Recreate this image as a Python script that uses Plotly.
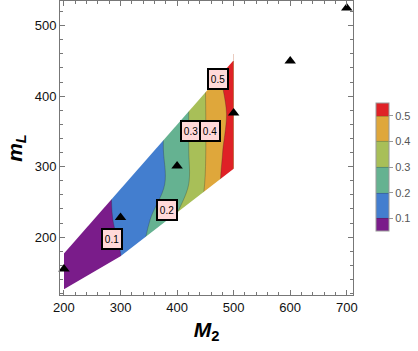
import plotly.graph_objects as go

# grid of the contoured quantity
m2_grid = [200, 250, 300, 340, 380, 400, 420, 440, 460, 480, 500]
ml_grid = [126, 175, 225, 275, 325, 375, 425, 460]
z_grid = [
    [0.03, 0.065, 0.099, 0.20, 0.30, 0.35, 0.40, 0.45, 0.50, 0.53, 0.56],
    [0.03, 0.065, 0.099, 0.20, 0.30, 0.35, 0.40, 0.45, 0.50, 0.53, 0.56],
    [0.03, 0.068, 0.112, 0.173, 0.26, 0.31, 0.35, 0.40, 0.45, 0.50, 0.56],
    [0.02, 0.06, 0.119, 0.16, 0.202, 0.25, 0.298, 0.368, 0.442, 0.512, 0.56],
    [0.02, 0.06, 0.115, 0.158, 0.205, 0.251, 0.298, 0.366, 0.429, 0.497, 0.56],
    [0.02, 0.06, 0.115, 0.158, 0.205, 0.25, 0.298, 0.368, 0.428, 0.477, 0.54],
    [0.02, 0.06, 0.115, 0.158, 0.205, 0.25, 0.298, 0.37, 0.43, 0.505, 0.56],
    [0.02, 0.06, 0.115, 0.158, 0.205, 0.25, 0.298, 0.37, 0.43, 0.505, 0.56],
]

# edges of the region where the data exists
upper_edge_m2 = [200, 500]
upper_edge_ml = [177, 451]
lower_edge_m2 = [200, 300, 500]
lower_edge_ml = [126, 173, 297]

# benchmark points
pts_m2 = [200, 300, 400, 500, 600, 700]
pts_ml = [155, 228, 301, 376, 450, 525]

# contour labels
label_text = ["0.1", "0.2", "0.3", "0.4", "0.5"]
label_m2 = [285, 383, 424, 459, 472]
label_ml = [197, 238, 351, 351, 424]

band_colors = ["#7A1C8A", "#437ECF", "#65B291", "#A8BF58", "#DFA73B", "#DF2126"]

fig = go.Figure()
fig.add_trace(
    go.Contour(
        x=m2_grid,
        y=ml_grid,
        z=z_grid,
        contours={"start": 0.1, "end": 0.5, "size": 0.1, "coloring": "fill"},
        colorscale=[[i / 5, c] for i, c in enumerate(band_colors)],
        line={"color": "rgba(40,40,40,0.35)", "width": 0.8},
        colorbar={
            "x": 1.078,
            "xanchor": "left",
            "xpad": 0,
            "y": 0.435,
            "yanchor": "middle",
            "len": 0.435,
            "ypad": 0,
            "thickness": 13,
            "outlinecolor": "#999",
            "outlinewidth": 1,
            "tickvals": [0.1, 0.2, 0.3, 0.4, 0.5],
            "ticks": "outside",
            "ticklen": 4,
            "tickcolor": "#999",
            "tickfont": {"size": 11, "color": "#555"},
        },
        hoverinfo="skip",
    )
)

# white masks outside the data hull
fig.add_trace(
    go.Scatter(
        x=upper_edge_m2 + [upper_edge_m2[-1], upper_edge_m2[0] - 5, upper_edge_m2[0] - 5],
        y=upper_edge_ml + [470, 470, upper_edge_ml[0]],
        fill="toself",
        fillcolor="white",
        line={"width": 0, "color": "white"},
        mode="lines",
        hoverinfo="skip",
        showlegend=False,
    )
)
fig.add_trace(
    go.Scatter(
        x=lower_edge_m2 + [lower_edge_m2[-1] + 5, lower_edge_m2[-1] + 5, lower_edge_m2[0] - 5, lower_edge_m2[0] - 5],
        y=lower_edge_ml + [lower_edge_ml[-1], 118, 118, lower_edge_ml[0]],
        fill="toself",
        fillcolor="white",
        line={"width": 0, "color": "white"},
        mode="lines",
        hoverinfo="skip",
        showlegend=False,
    )
)

fig.add_trace(
    go.Scatter(
        x=pts_m2,
        y=pts_ml,
        mode="markers",
        marker={"symbol": "triangle-up", "size": 10, "color": "black"},
        cliponaxis=False,
        showlegend=False,
    )
)

for t, xm, ym in zip(label_text, label_m2, label_ml):
    fig.add_annotation(
        x=xm,
        y=ym,
        text=t,
        showarrow=False,
        font={"size": 10, "color": "black"},
        bgcolor="#FFD9D9",
        bordercolor="black",
        borderwidth=2,
        borderpad=1,
        width=16,
        height=16,
    )

axis_common = dict(
    showline=True,
    linecolor="#777",
    linewidth=1,
    mirror="ticks",
    ticks="inside",
    ticklen=5,
    tickcolor="#777",
    showgrid=False,
    zeroline=False,
    automargin=False,
    tickfont={"size": 13, "color": "#111"},
)

fig.update_xaxes(
    **axis_common,
    range=[193, 711],
    dtick=100,
    minor={"dtick": 20, "ticks": "inside", "ticklen": 3, "tickcolor": "#777"},
    title={"text": "<b><i>M</i><sub>2</sub></b>", "font": {"size": 21, "color": "black"}, "standoff": 8},
)
fig.update_yaxes(
    **axis_common,
    range=[118, 535],
    dtick=100,
    minor={"dtick": 20, "ticks": "inside", "ticklen": 3, "tickcolor": "#777"},
    title={"text": "<b><i>m</i><sub><i>L</i></sub></b>", "font": {"size": 21, "color": "black"}, "standoff": 6},
)

fig.update_layout(
    width=418,
    height=351,
    margin={"l": 60, "r": 65, "t": 1, "b": 56},
    paper_bgcolor="white",
    plot_bgcolor="white",
    font={"family": "Liberation Sans, Arial, sans-serif"},
    showlegend=False,
)

fig.write_html(
    "out.html",
    config={"displayModeBar": False},
    post_script="document.body.style.margin = '0';",
)
